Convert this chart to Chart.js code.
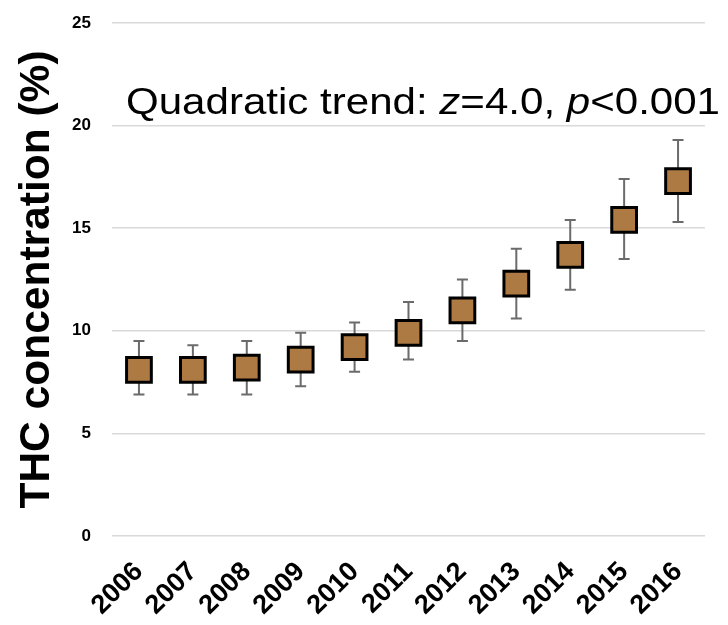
<!DOCTYPE html>
<html>
<head>
<meta charset="utf-8">
<script src="https://cdn.jsdelivr.net/npm/chart.js@4"></script>
<style>
  body { margin: 0; background: #fff; }
  canvas { display: block; }
</style>
</head>
<body>
<canvas id="graphiqueTHC" width="728" height="625"></canvas>
<script>
const annees = ["2006", "2007", "2008", "2009", "2010", "2011", "2012", "2013", "2014", "2015", "2016"];
const moyennes = [8.1, 8.1, 8.2, 8.6, 9.2, 9.9, 11.0, 12.3, 13.7, 15.4, 17.3];
const basses = [6.9, 6.9, 6.9, 7.3, 8.0, 8.6, 9.5, 10.6, 12.0, 13.5, 15.3];
const hautes = [9.5, 9.3, 9.5, 9.9, 10.4, 11.4, 12.5, 14.0, 15.4, 17.4, 19.3];
const ticksY = [0, 5, 10, 15, 20, 25];

// barres d'erreur dessinées sous les carrés
const barresErreur = {
    id: "barresErreur",
    beforeDatasetsDraw(chart) {
        const { ctx, scales: { x, y } } = chart;
        ctx.save();
        ctx.strokeStyle = "#6b6b6b";
        ctx.lineWidth = 2;
        annees.forEach((a, i) => {
            const px = x.getPixelForValue(i);
            const yh = y.getPixelForValue(hautes[i]);
            const yb = y.getPixelForValue(basses[i]);
            ctx.beginPath();
            ctx.moveTo(px, yh);
            ctx.lineTo(px, yb);
            ctx.moveTo(px - 5.5, yh);
            ctx.lineTo(px + 5.5, yh);
            ctx.moveTo(px - 5.5, yb);
            ctx.lineTo(px + 5.5, yb);
            ctx.stroke();
        });
        ctx.restore();
    }
};

const annotation = {
    id: "annotation",
    afterDraw(chart) {
        const ctx = chart.ctx;
        const morceaux = [
            ["Quadratic trend: ", false],
            ["z", true],
            ["=4.0, ", false],
            ["p", true],
            ["<0.001", false]
        ];
        const police = it => (it ? "italic " : "") + "37.5px 'Liberation Sans', Arial, sans-serif";
        ctx.save();
        let total = 0;
        morceaux.forEach(([t, it]) => { ctx.font = police(it); total += ctx.measureText(t).width; });
        ctx.translate(126, 114);
        ctx.scale(594 / total, 1);
        ctx.fillStyle = "#000";
        ctx.textBaseline = "alphabetic";
        let xPos = 0;
        morceaux.forEach(([t, it]) => {
            ctx.font = police(it);
            ctx.fillText(t, xPos, 0);
            xPos += ctx.measureText(t).width;
        });
        ctx.restore();
    }
};

new Chart(document.getElementById("graphiqueTHC").getContext("2d"), {
    type: "line",
    data: {
        labels: annees,
        datasets: [{
            data: moyennes,
            showLine: false,
            pointStyle: "rect",
            pointRadius: 17.5,
            pointHoverRadius: 17.5,
            pointBackgroundColor: "#ad7a43",
            pointBorderColor: "#000",
            pointBorderWidth: 3
        }]
    },
    options: {
        responsive: false,
        animation: false,
        layout: { padding: { top: 23, right: 23, left: 0, bottom: 0 } },
        plugins: {
            legend: { display: false },
            tooltip: { enabled: false }
        },
        scales: {
            x: {
                offset: true,
                grid: { display: false },
                border: { display: false },
                ticks: {
                    color: "#000",
                    font: { family: "'Liberation Sans', Arial", size: 27, weight: "bold" },
                    minRotation: 45,
                    maxRotation: 45,
                    autoSkip: false,
                    padding: 12
                },
                afterFit: s => { s.height = 89; s.paddingTop = 0; s.paddingBottom = 0; }
            },
            y: {
                min: 0,
                max: 25,
                afterBuildTicks: s => { s.ticks = ticksY.map(v => ({ value: v })); },
                grid: { color: "#d9d9d9", lineWidth: 1.5, drawTicks: false },
                border: { display: false },
                ticks: {
                    color: "#000",
                    font: { family: "'Liberation Sans', Arial", size: 17, weight: "bold" },
                    padding: 21
                },
                title: {
                    display: true,
                    text: "THC concentration (%)",
                    color: "#000",
                    font: { family: "'Liberation Sans', Arial", size: 42.5, weight: "bold" },
                    padding: { top: 12, bottom: 0 }
                },
                afterFit: s => { s.width = 112; s.paddingTop = 0; s.paddingBottom = 0; }
            }
        }
    },
    plugins: [barresErreur, annotation]
});
</script>
</body>
</html>
